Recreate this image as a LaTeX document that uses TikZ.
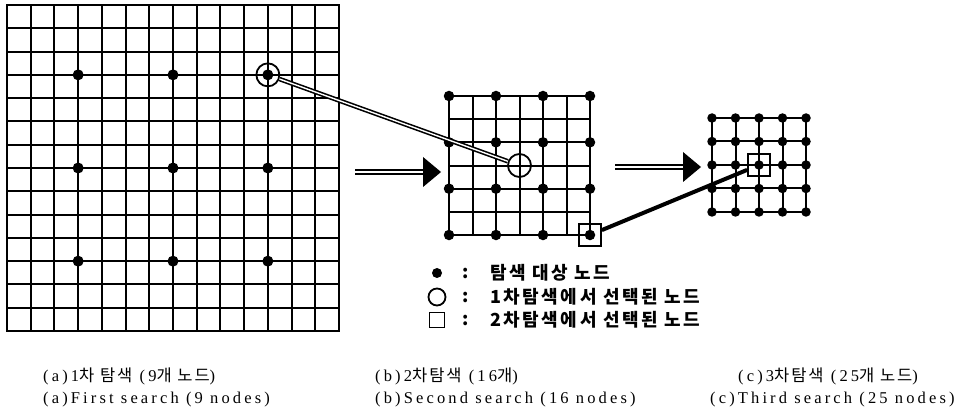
\documentclass[tikz,border=0pt]{standalone}
\usepackage{fontspec}
\setmainfont{Liberation Serif}
\newfontfamily\kr{Noto Sans CJK KR}[LetterSpace=14]
\newfontfamily\capfont{Liberation Serif}[LetterSpace=19]
\newfontfamily\krcap{Noto Sans CJK KR}[LetterSpace=12]
\begin{document}
\begin{tikzpicture}[x=1pt,y=-1pt,
  gridline/.style={line width=2pt,line cap=rect},
  dotnode/.style={circle,fill=black,inner sep=0pt,minimum size=#1},
  selcircle/.style={circle,draw,line width=1.8pt,inner sep=0pt,minimum size=#1},
  selsquare/.style={rectangle,draw,line width=1.7pt,inner sep=0pt,minimum size=#1},
  shaft/.style={line width=1.4pt,double distance=2.8pt},
  legtext/.style={anchor=west,inner sep=0pt,font=\kr\bfseries\fontsize{18}{20}\selectfont},
  captext/.style={anchor=west,inner sep=0pt,font=\capfont\fontsize{16.5}{18}\selectfont}]
\useasboundingbox (0,0) rectangle (966,419);
\fill[white] (0,0) rectangle (966,419);

% ---- grid (a) 14x14 ----
\foreach \i in {0,...,14} {
  \draw[gridline] ({7+\i*23.714},5) -- ({7+\i*23.714},331);
  \draw[gridline] (7,{5+\i*23.286}) -- (339,{5+\i*23.286});
}
\foreach \i in {3,7,11} \foreach \j in {3,7,11}
  \node[dotnode=11pt] (da-\i-\j) at ({7+\i*23.714},{5+\j*23.286}) {};
\node[selcircle=23pt] (c1) at ({7+11*23.714},{5+3*23.286}) {};

% ---- grid (b) 6x6 ----
\foreach \i in {0,...,6} {
  \draw[gridline] ({449+\i*23.5},96) -- ({449+\i*23.5},235);
  \draw[gridline] (449,{96+\i*23.17}) -- (590,{96+\i*23.17});
}
\foreach \i in {0,2,4,6} \foreach \j in {0,2,4,6}
  \node[dotnode=10.5pt] (db-\i-\j) at ({449+\i*23.5},{96+\j*23.17}) {};
\node[selcircle=23pt] (c2) at ({449+3*23.5},{96+3*23.17}) {};
\node[selsquare=22pt] (s1) at (590,235) {};

% ---- grid (c) 4x4 ----
\foreach \i in {0,...,4} {
  \draw[gridline] ({712+\i*23.5},118) -- ({712+\i*23.5},212);
  \draw[gridline] (712,{118+\i*23.5}) -- (806,{118+\i*23.5});
}
\foreach \i in {0,...,4} \foreach \j in {0,...,4}
  \node[dotnode=9.5pt] (dc-\i-\j) at ({712+\i*23.5},{118+\j*23.5}) {};
\node[selsquare=22pt] (s2) at ({712+2*23.5},{118+2*23.5}) {};

% ---- connectors ----
\draw[line width=1.6pt,double distance=1.4pt] (c1) -- (c2);
\draw[line width=4pt] (s1) -- (s2);

% ---- big arrows ----
\coordinate (a1s) at (355,172);
\coordinate (a1e) at (423,172);
\draw[shaft] (a1s) -- (a1e);
\fill (423,157) -- (441,172) -- (423,187) -- cycle;
\coordinate (a2s) at (615,167);
\coordinate (a2e) at (683,167);
\draw[shaft] (a2s) -- (a2e);
\fill (683,152) -- (701,167) -- (683,182) -- cycle;

% ---- legend ----
\node[dotnode=10pt] (l1) at (437,273) {};
\node[selcircle=17pt] (l2) at (437,297) {};
\node[selsquare=15pt] (l3) at (437,320) {};
\node[legtext] (k1) at (462,273) {:};
\node[legtext] (k2) at (462,297) {:};
\node[legtext] (k3) at (462,320) {:};
\node[legtext] (t1) at (490,273) {탐색 대상 노드};
\node[legtext] (t2) at (490,297) {1차탐색에서 선택된 노드};
\node[legtext] (t3) at (490,320) {2차탐색에서 선택된 노드};

% ---- captions ----
\node[captext] (ka) at (43,376) {(a)1{\krcap 차 탐색} (9{\krcap 개 노드})};
\node[captext] (kb) at (375,376) {(b)2{\krcap 차탐색} (16{\krcap 개})};
\node[captext] (kc) at (738,376) {(c)3{\krcap 차탐색} (25{\krcap 개 노드})};
\node[captext] (ea) at (43,400) {(a)First search (9 nodes)};
\node[captext] (eb) at (375,400) {(b)Second search (16 nodes)};
\node[captext] (ec) at (710,400) {(c)Third search (25 nodes)};
\end{tikzpicture}
\end{document}
